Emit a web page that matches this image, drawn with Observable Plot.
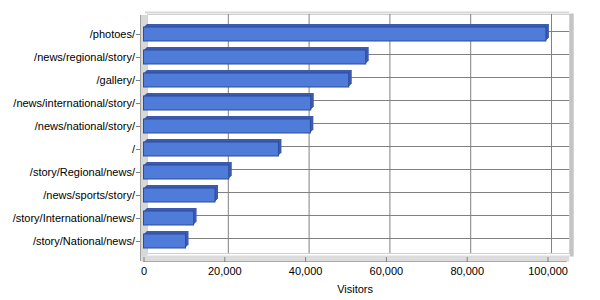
<!DOCTYPE html>
<html>
<head>
<meta charset="utf-8">
<script src="https://cdn.jsdelivr.net/npm/d3@7"></script>
<script src="https://cdn.jsdelivr.net/npm/@observablehq/plot@0.6"></script>
<style>
  html, body { margin: 0; padding: 0; background: #ffffff; }
  #chart { width: 600px; height: 300px; }
</style>
</head>
<body>
<div id="chart"></div>
<script>
const pages = [
  "/photoes/",
  "/news/regional/story/",
  "/gallery/",
  "/news/international/story/",
  "/news/national/story/",
  "/",
  "/story/Regional/news/",
  "/news/sports/story/",
  "/story/International/news/",
  "/story/National/news/"
];
const visitors = [99600, 55000, 50800, 41400, 41300, 33400, 21100, 17700, 12400, 10400];
const xTicks = [0, 20000, 40000, 60000, 80000, 100000];
const xAxisLabel = "Visitors";

const data = pages.map((p, i) => ({page: p, visitors: visitors[i]}));
const fmt = d3.format(",");

const depthMarks = [1, 2, 3].map(k =>
  Plot.barX(data, {x: "visitors", y: "page", fill: "#3a5bb0", dx: k, dy: -k})
);

const chart = Plot.plot({
  width: 600,
  height: 300,
  marginLeft: 143.5,
  marginRight: 34.3,
  marginTop: 18,
  marginBottom: 43,
  style: {fontFamily: "'Liberation Sans', Arial, sans-serif", fontSize: "11px", background: "white", color: "black"},
  x: {domain: [0, 104500], ticks: xTicks, tickFormat: fmt},
  y: {domain: pages, paddingInner: 0.37, paddingOuter: 0.185},
  marks: [
    // back wall
    Plot.frame({fill: "white", stroke: "#d0d0d0", dx: 3.5, dy: -4}),
    Plot.frame({anchor: "top", stroke: "#d8d8d8", strokeWidth: 2, dx: 2, dy: -6}),
    // right wall
    Plot.frame({anchor: "right", stroke: "#c4c4c4", strokeWidth: 4, dx: 5.5, dy: -3}),
    // left wall
    Plot.ruleX([0], {stroke: "#d8d8d8", strokeWidth: 7, insetTop: -3, insetBottom: -2}),
    // floor
    Plot.frame({anchor: "bottom", stroke: "#dcdcdc", strokeWidth: 6, dy: 1}),
    // grid on back wall
    Plot.gridX({ticks: xTicks.slice(1), stroke: "#808080", strokeOpacity: 1, dx: 3.5, dy: -4}),
    Plot.gridY({stroke: "#808080", strokeOpacity: 1, dx: 3.5, dy: -3}),
    // bars (3D depth then front face)
    ...depthMarks,
    Plot.barX(data, {x: "visitors", y: "page", fill: "#4f7bd9", stroke: "#2e4c9c", strokeWidth: 1}),
    // front edges
    Plot.frame({anchor: "bottom", stroke: "#a8a8a8", dy: 4}),
    Plot.ruleX([0], {stroke: "#a0a0a0", dx: -3.5, insetTop: -3, insetBottom: -4}),
    // axes
    Plot.axisY({tickSize: 4, tickPadding: 1.5, dx: -3.5, stroke: "#808080", label: null}),
    Plot.axisX({ticks: xTicks, tickFormat: fmt, tickSize: 5, tickPadding: 5, stroke: "#808080",
                label: xAxisLabel, labelAnchor: "center", labelArrow: "none", labelOffset: 35})
  ]
});

document.getElementById("chart").appendChild(chart);
</script>
</body>
</html>
